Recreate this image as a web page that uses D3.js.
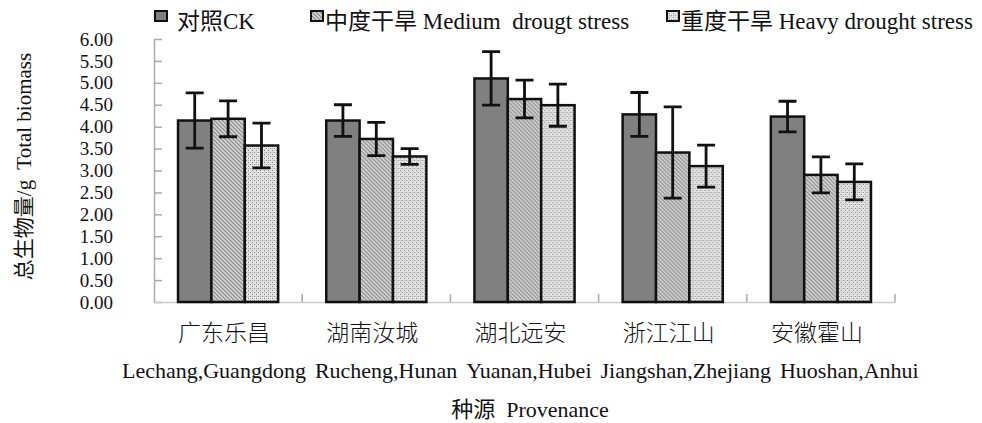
<!DOCTYPE html>
<html>
<head>
<meta charset="utf-8">
<script src="https://cdn.jsdelivr.net/npm/d3@7"></script>
<style>
  html, body { margin: 0; padding: 0; background: #fff; }
  svg { display: block; }
  text { font-family: "Liberation Serif", "Times New Roman", "Noto Sans CJK SC", serif; fill: #111; white-space: pre; }
</style>
</head>
<body>
<svg id="chart" width="982" height="423"></svg>
<script>
// ---- data ----
const categoriesZh = ["广东乐昌", "湖南汝城", "湖北远安", "浙江江山", "安徽霍山"];
const categoriesEn = ["Lechang,Guangdong", "Rucheng,Hunan", "Yuanan,Hubei", "Jiangshan,Zhejiang", "Huoshan,Anhui"];
const seriesNames = ["对照CK", "中度干旱 Medium  drougt stress", "重度干旱 Heavy drought stress"];
const ckValues     = [4.14, 4.14, 5.10, 4.28, 4.23];
const ckErrors     = [0.63, 0.36, 0.61, 0.50, 0.35];
const mediumValues = [4.18, 3.72, 4.63, 3.41, 2.90];
const mediumErrors = [0.41, 0.38, 0.43, 1.04, 0.41];
const heavyValues  = [3.57, 3.32, 4.49, 3.10, 2.74];
const heavyErrors  = [0.51, 0.18, 0.48, 0.48, 0.41];
const yTicks = [0, 0.5, 1, 1.5, 2, 2.5, 3, 3.5, 4, 4.5, 5, 5.5, 6];
const yLabel = "总生物量/g  Total biomass";
const xLabel = "种源  Provenance";

const series = [
  { name: seriesNames[0], values: ckValues, errors: ckErrors, fill: "#808080" },
  { name: seriesNames[1], values: mediumValues, errors: mediumErrors, fill: "url(#hatch)" },
  { name: seriesNames[2], values: heavyValues, errors: heavyErrors, fill: "url(#dots)" }
];

const svg = d3.select("#chart");
const defs = svg.append("defs");

// diagonal hatch pattern
const hatch = defs.append("pattern").attr("id", "hatch")
  .attr("patternUnits", "userSpaceOnUse").attr("width", 4).attr("height", 4);
hatch.append("rect").attr("width", 4).attr("height", 4).attr("fill", "#d4d4d4");
hatch.append("path").attr("d", "M-1,-1 L5,5 M-1,3 L1,5 M3,-1 L5,1")
  .attr("stroke", "#8a8a8a").attr("stroke-width", 1.2);

// dotted pattern
const dots = defs.append("pattern").attr("id", "dots")
  .attr("patternUnits", "userSpaceOnUse").attr("width", 4).attr("height", 4);
dots.append("rect").attr("width", 4).attr("height", 4).attr("fill", "#e2e2e2");
dots.append("rect").attr("x", 0).attr("y", 0).attr("width", 1).attr("height", 1).attr("fill", "#888");
dots.append("rect").attr("x", 2).attr("y", 2).attr("width", 1).attr("height", 1).attr("fill", "#888");
dots.append("rect").attr("x", 2).attr("y", 0).attr("width", 1).attr("height", 1).attr("fill", "#bbb");

const plotLeft = 154, plotRight = 895, plotTop = 39, plotBottom = 302;

const x0 = d3.scaleBand().domain(d3.range(categoriesZh.length)).range([plotLeft, plotRight]).padding(0);
const x1 = d3.scaleBand().domain(d3.range(series.length)).range([0, x0.bandwidth()]).paddingInner(0).paddingOuter(0.72);
const y = d3.scaleLinear().domain([0, 6]).range([plotBottom, plotTop]);

// y axis
const yAxis = d3.axisLeft(y).tickValues(yTicks).tickFormat(d3.format(".2f")).tickSize(0).tickPadding(41);
const yg = svg.append("g").attr("transform", `translate(${plotLeft},0)`).call(yAxis);
yg.select(".domain").attr("stroke", "#aaa").attr("stroke-width", 1.5);
yg.selectAll("text").attr("font-size", 19).attr("fill", "#111")
  .style("font-family", '"Liberation Serif", serif');
yg.selectAll(".tick").append("line").attr("x1", 0).attr("x2", 8).attr("stroke", "#aaa").attr("stroke-width", 1.5);

// x axis
const xAxis = d3.axisBottom(x0).tickSize(0).tickFormat("");
const xg = svg.append("g").attr("transform", `translate(0,${plotBottom})`).call(xAxis);
xg.select(".domain").attr("stroke", "#ccc").attr("stroke-width", 1.5);
xg.selectAll(".tick").remove();
const boundaries = d3.range(1, categoriesZh.length + 1).map(i => plotLeft + i * x0.step());
xg.selectAll(".bt").data(boundaries).enter().append("line")
  .attr("x1", d => d).attr("x2", d => d).attr("y1", 0).attr("y2", -8)
  .attr("stroke", "#aaa").attr("stroke-width", 1.5);

// bars
const groups = svg.append("g").selectAll("g").data(categoriesZh).enter().append("g")
  .attr("transform", (d, i) => `translate(${x0(i)},0)`);

series.forEach((s, si) => {
  groups.append("rect")
    .attr("x", x1(si))
    .attr("width", x1.bandwidth())
    .attr("y", (d, i) => y(s.values[i]))
    .attr("height", (d, i) => y(0) - y(s.values[i]))
    .attr("fill", s.fill)
    .attr("stroke", "#111").attr("stroke-width", 2.5);
});
series.forEach((s, si) => {
  const cx = x1(si) + x1.bandwidth() / 2;
  const cap = 9;
  groups.append("path")
    .attr("d", (d, i) => {
      const t = y(s.values[i] + s.errors[i]), b = y(s.values[i] - s.errors[i]);
      return `M${cx - cap},${t} H${cx + cap} M${cx},${t} V${b} M${cx - cap},${b} H${cx + cap}`;
    })
    .attr("fill", "none").attr("stroke", "#111").attr("stroke-width", 2.8);
});

// x labels (Chinese)
svg.append("g").selectAll("text").data(categoriesZh).enter().append("text")
  .attr("x", (d, i) => x0(i) + x0.bandwidth() / 2 - 4)
  .attr("y", 341)
  .attr("text-anchor", "middle").attr("font-size", 23)
  .style("font-family", '"Noto Sans CJK SC", sans-serif').style("font-weight", 300)
  .text(d => d);
// x labels (English) laid out as a flowing line
const enTexts = svg.append("g").selectAll("text").data(categoriesEn).enter().append("text")
  .attr("y", 378).attr("font-size", 22)
  .text(d => d);
let cursor = 122;
enTexts.each(function () {
  d3.select(this).attr("x", cursor);
  cursor += this.getComputedTextLength() + 9;
});

svg.append("text").attr("x", 530).attr("y", 417).attr("text-anchor", "middle")
  .attr("font-size", 22).text(xLabel);

svg.append("text")
  .attr("transform", `translate(31,${(plotTop + plotBottom) / 2 - 4}) rotate(-90)`)
  .attr("text-anchor", "middle").attr("font-size", 21)
  .text(yLabel);

// legend
const legendX = [155, 311, 667];
const lg = svg.append("g").selectAll("g").data(series).enter().append("g")
  .attr("transform", (d, i) => `translate(${legendX[i]},11)`);
lg.append("rect").attr("width", 12).attr("height", 10)
  .attr("fill", d => d.fill).attr("stroke", "#111").attr("stroke-width", 2);
lg.append("text").attr("x", (d, i) => i === 0 ? 22 : 14).attr("y", 18)
  .attr("font-size", 23).text(d => d.name);
</script>
</body>
</html>
